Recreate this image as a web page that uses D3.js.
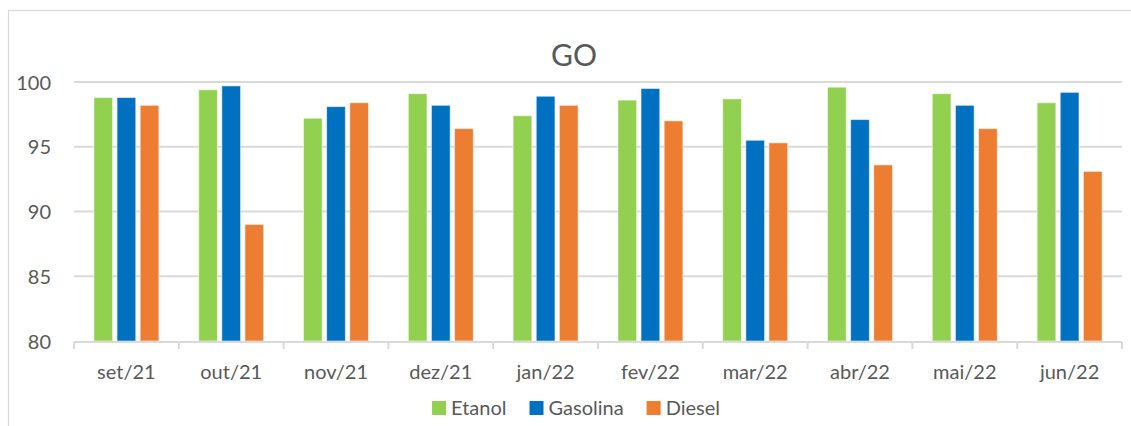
<!DOCTYPE html>
<html>
<head>
<meta charset="utf-8">
<script src="https://cdn.jsdelivr.net/npm/d3@7"></script>
<style>
  html, body { margin: 0; padding: 0; background: #ffffff; }
  svg { display: block; font-family: Lato, "Open Sans", sans-serif; }
</style>
</head>
<body>
<svg id="chart" width="1131" height="426"></svg>
<script>
// Monthly values per fuel type
const categories = ["set/21", "out/21", "nov/21", "dez/21", "jan/22", "fev/22", "mar/22", "abr/22", "mai/22", "jun/22"];
const seriesNames = ["Etanol", "Gasolina", "Diesel"];
const etanol   = [98.8, 99.4, 97.2, 99.1, 97.4, 98.6, 98.7, 99.6, 99.1, 98.4];
const gasolina = [98.8, 99.7, 98.1, 98.2, 98.9, 99.5, 95.5, 97.1, 98.2, 99.2];
const diesel   = [98.2, 89.0, 98.4, 96.4, 98.2, 97.0, 95.3, 93.6, 96.4, 93.1];
const yTicks = [80, 85, 90, 95, 100];
const title = "GO";

const seriesValues = [etanol, gasolina, diesel];
const colors = ["#92D050", "#0070C0", "#ED7D31"];
const textColor = "#595959";
const gridColor = "#D9D9D9";

const svg = d3.select("#chart");

// Outer chart frame (extends past the right/bottom edges)
svg.append("rect")
  .attr("x", 8.5).attr("y", 10.5)
  .attr("width", 1140).attr("height", 440)
  .attr("fill", "#fff").attr("stroke", gridColor).attr("stroke-width", 1.2);

const plot = { left: 74, right: 1122, top: 82, bottom: 341 };

const x = d3.scaleBand().domain(categories).range([plot.left, plot.right]).padding(0);
const y = d3.scaleLinear().domain([80, 100]).range([plot.bottom, plot.top]);

const groupWidth = x.bandwidth() * 0.62;
const xs = d3.scaleBand().domain(seriesNames)
  .range([-groupWidth / 2, groupWidth / 2]).paddingInner(0.19).paddingOuter(0);

// Horizontal gridlines
svg.append("g")
  .selectAll("line")
  .data(yTicks.filter(t => t > 80))
  .join("line")
  .attr("x1", plot.left).attr("x2", plot.right)
  .attr("y1", d => y(d)).attr("y2", d => y(d))
  .attr("stroke", gridColor).attr("stroke-width", 2);

// Y axis labels
const yAxis = d3.axisLeft(y).tickValues(yTicks).tickSize(0).tickPadding(0);
const yg = svg.append("g").attr("transform", `translate(${plot.left - 23},0)`).call(yAxis);
yg.select(".domain").remove();
yg.selectAll("text")
  .attr("fill", textColor).attr("font-size", 20).attr("font-family", "Lato, 'Open Sans', sans-serif")
  .attr("dy", "0.35em");

// Bars
const groups = svg.append("g").selectAll("g")
  .data(seriesNames)
  .join("g")
  .attr("fill", (d, i) => colors[i]);

groups.selectAll("rect")
  .data((s, i) => seriesValues[i].map((v, j) => ({ s, v, c: categories[j] })))
  .join("rect")
  .attr("x", d => x(d.c) + x.bandwidth() / 2 + xs(d.s))
  .attr("width", xs.bandwidth())
  .attr("y", d => y(d.v))
  .attr("height", d => y(80) - y(d.v))
  .attr("stroke", "rgba(255,255,255,0.55)")
  .attr("stroke-width", 1);

// X axis: baseline, boundary ticks and month labels
const xAxisG = svg.append("g");
xAxisG.append("line")
  .attr("x1", plot.left).attr("x2", plot.right)
  .attr("y1", plot.bottom + 1).attr("y2", plot.bottom + 1)
  .attr("stroke", gridColor).attr("stroke-width", 2);
const boundaries = categories.map(c => x(c)).concat([plot.right]);
xAxisG.selectAll("line.tick")
  .data(boundaries)
  .join("line")
  .attr("class", "tick")
  .attr("x1", d => d).attr("x2", d => d)
  .attr("y1", plot.bottom + 1).attr("y2", plot.bottom + 8)
  .attr("stroke", gridColor).attr("stroke-width", 2);
xAxisG.selectAll("text")
  .data(categories)
  .join("text")
  .attr("x", d => x(d) + x.bandwidth() / 2)
  .attr("y", 379)
  .attr("text-anchor", "middle")
  .attr("fill", textColor).attr("font-size", 20)
  .text(d => d);

// Title
svg.append("text")
  .attr("x", 574).attr("y", 66)
  .attr("text-anchor", "middle")
  .attr("fill", textColor).attr("font-size", 30)
  .text(title);

// Legend, centered under the plot
const legend = svg.append("g");
const swatch = 14, swGap = 5, itemGap = 23;
const items = legend.selectAll("g").data(seriesNames).join("g");
items.append("rect")
  .attr("width", swatch).attr("height", swatch)
  .attr("y", 401)
  .attr("fill", (d, i) => colors[i]);
items.append("text")
  .attr("x", swatch + swGap).attr("y", 415)
  .attr("fill", textColor).attr("font-size", 20)
  .text(d => d);
let cursor = 0;
const widths = [];
items.each(function () {
  const w = swatch + swGap + this.querySelector("text").getComputedTextLength();
  widths.push(w);
});
const total = d3.sum(widths) + itemGap * (widths.length - 1);
cursor = 576 - total / 2;
items.attr("transform", (d, i) => {
  const t = `translate(${cursor},0)`;
  cursor += widths[i] + itemGap;
  return t;
});
</script>
</body>
</html>
